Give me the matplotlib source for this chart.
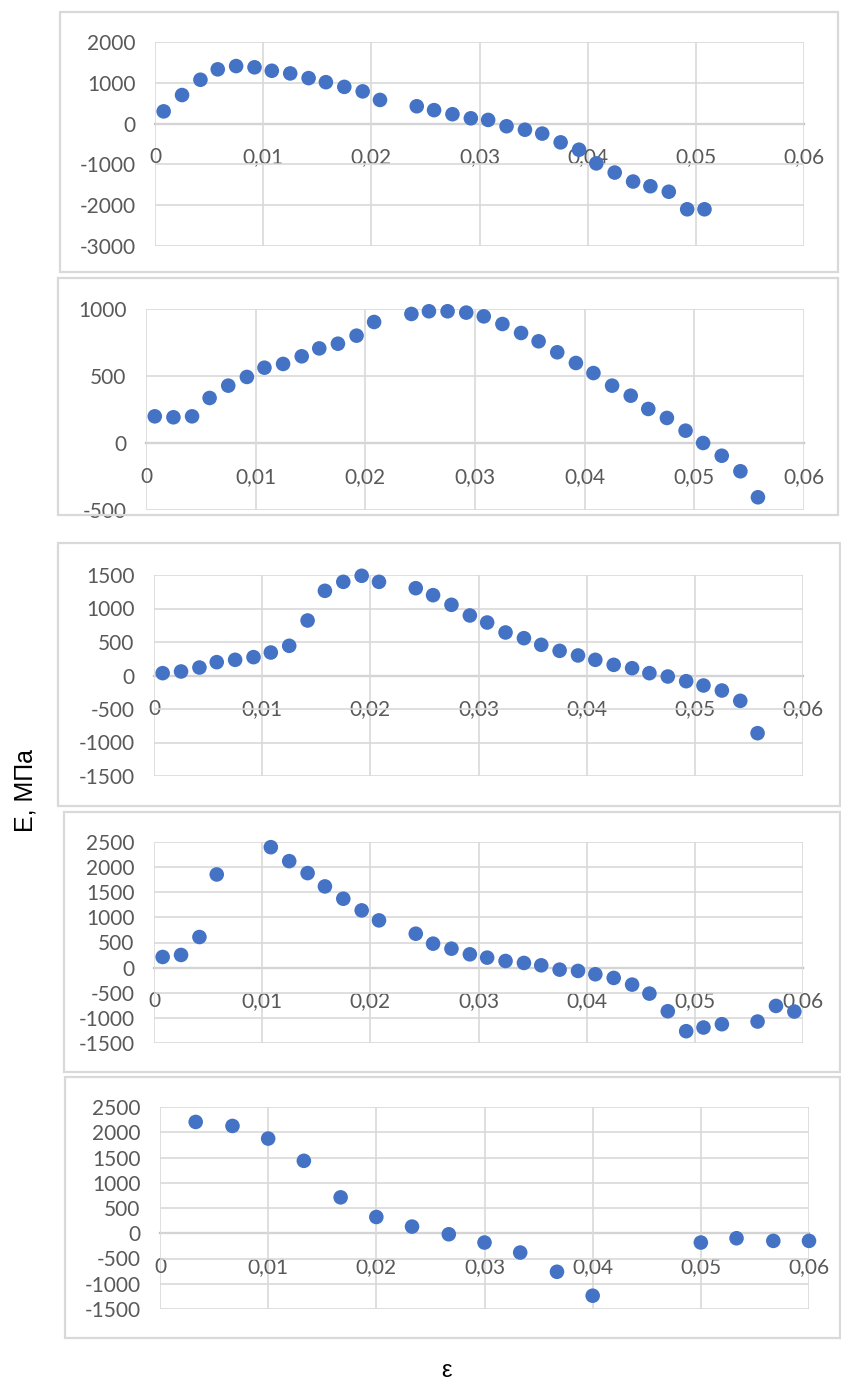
import matplotlib
matplotlib.use("Agg")
import matplotlib.pyplot as plt
from matplotlib.patches import Rectangle
from matplotlib.ticker import FixedLocator, FuncFormatter

# ---------------- data ----------------
eps1 = [0.0008, 0.0025, 0.0042, 0.0058, 0.0075, 0.0092, 0.0108, 0.0125, 0.0142, 0.0158,
        0.0175, 0.0192, 0.0208, 0.0242, 0.0258, 0.0275, 0.0292, 0.0308, 0.0325, 0.0342,
        0.0358, 0.0375, 0.0392, 0.0408, 0.0425, 0.0442, 0.0458, 0.0475, 0.0492, 0.0508]
E1 = [300, 700, 1075, 1330, 1410, 1380, 1295, 1230, 1115, 1015,
      900, 790, 580, 425, 330, 230, 130, 90, -65, -150,
      -245, -460, -640, -975, -1200, -1420, -1535, -1670, -2100, -2100]

eps2 = [0.0008, 0.0025, 0.0042, 0.0058, 0.0075, 0.0092, 0.0108, 0.0125, 0.0142, 0.0158,
        0.0175, 0.0192, 0.0208, 0.0242, 0.0258, 0.0275, 0.0292, 0.0308, 0.0325, 0.0342,
        0.0358, 0.0375, 0.0392, 0.0408, 0.0425, 0.0442, 0.0458, 0.0475, 0.0492, 0.0508,
        0.0525, 0.0542, 0.0558]
E2 = [199, 192, 199, 336, 428, 493, 562, 590, 647, 706,
      741, 801, 903, 963, 983, 983, 973, 945, 888, 821,
      759, 677, 597, 522, 428, 353, 254, 187, 92, 0,
      -95, -211, -405]

eps3 = [0.0008, 0.0025, 0.0042, 0.0058, 0.0075, 0.0092, 0.0108, 0.0125, 0.0142, 0.0158,
        0.0175, 0.0192, 0.0208, 0.0242, 0.0258, 0.0275, 0.0292, 0.0308, 0.0325, 0.0342,
        0.0358, 0.0375, 0.0392, 0.0408, 0.0425, 0.0442, 0.0458, 0.0475, 0.0492, 0.0508,
        0.0525, 0.0542, 0.0558]
E3 = [35, 60, 119, 199, 234, 274, 343, 443, 821, 1264,
      1398, 1488, 1398, 1303, 1199, 1055, 896, 791, 642, 557,
      458, 368, 299, 234, 159, 109, 35, -15, -85, -149,
      -224, -378, -861]

eps4 = [0.0008, 0.0025, 0.0042, 0.0058, 0.0108, 0.0125, 0.0142, 0.0158, 0.0175, 0.0192,
        0.0208, 0.0242, 0.0258, 0.0275, 0.0292, 0.0308, 0.0325, 0.0342, 0.0358, 0.0375,
        0.0392, 0.0408, 0.0425, 0.0442, 0.0458, 0.0475, 0.0492, 0.0508, 0.0525, 0.0558,
        0.0575, 0.0592]
E4 = [212, 252, 609, 1854, 2397, 2119, 1881, 1616, 1371, 1139,
      940, 675, 477, 377, 265, 199, 132, 93, 46, -40,
      -66, -132, -205, -338, -517, -868, -1265, -1192, -1126, -1073,
      -762, -874]

eps5 = [0.0033, 0.0067, 0.0100, 0.0133, 0.0167, 0.0200, 0.0233, 0.0267, 0.0300, 0.0333,
        0.0367, 0.0400, 0.0500, 0.0533, 0.0567, 0.0600]
E5 = [2204, 2125, 1875, 1434, 711, 322, 132, -20, -184, -382,
      -763, -1237, -184, -99, -151, -151]

x_ticks = [0, 0.01, 0.02, 0.03, 0.04, 0.05, 0.06]
x_tick_labels = ["0", "0,01", "0,02", "0,03", "0,04", "0,05", "0,06"]
y_ticks1 = [-3000, -2000, -1000, 0, 1000, 2000]
y_ticks2 = [-500, 0, 500, 1000]
y_ticks3 = [-1500, -1000, -500, 0, 500, 1000, 1500]
y_ticks4 = [-1500, -1000, -500, 0, 500, 1000, 1500, 2000, 2500]
y_ticks5 = [-1500, -1000, -500, 0, 500, 1000, 1500, 2000, 2500]

y_label = "E, МПа"
x_label = "ε"

# ---------------- layout ----------------
W, H = 841, 1380
fig = plt.figure(figsize=(W / 100, H / 100), dpi=100)

MARK = "#4472C4"
GRID = "#D9D9D9"
AXIS = "#BFBFBF"
TXT = "#595959"
FONT = ["Lato", "DejaVu Sans"]

# (plot-area left, right, top, bottom) in pixels; frame (left, right, top, bottom)
panels = [
    (eps1, E1, y_ticks1, (155, 804, 42, 246), (60, 838, 12, 272)),
    (eps2, E2, y_ticks2, (146, 804, 309, 510), (58, 838, 278, 515)),
    (eps3, E3, y_ticks3, (154, 803, 575, 776), (58, 840, 543, 806)),
    (eps4, E4, y_ticks4, (154, 803, 842, 1043), (64, 840, 812, 1072)),
    (eps5, E5, y_ticks5, (160, 809, 1107, 1309), (65, 840, 1077, 1338)),
]

for xs, ys, yt, (l, r, t, b), (fl, fr, ft, fb) in panels:
    fig.patches.append(Rectangle((fl / W, 1 - fb / H), (fr - fl) / W, (fb - ft) / H,
                                 transform=fig.transFigure, fill=False,
                                 edgecolor=GRID, linewidth=1.6, zorder=0))
    ax = fig.add_axes([l / W, 1 - b / H, (r - l) / W, (b - t) / H])
    ax.set_facecolor("none")
    ax.set_xlim(0, 0.06)
    ax.set_ylim(yt[0], yt[-1])
    ax.xaxis.set_major_locator(FixedLocator(x_ticks))
    ax.set_xticklabels(x_tick_labels)
    ax.yaxis.set_major_locator(FixedLocator(yt))
    ax.yaxis.set_major_formatter(FuncFormatter(lambda v, p: "%d" % v))
    ax.grid(True, color=GRID, linewidth=1.2, zorder=0)
    for s in ("top", "right", "left"):
        ax.spines[s].set_visible(False)
    ax.spines["bottom"].set_position(("data", 0))
    ax.spines["bottom"].set_color(AXIS)
    ax.spines["bottom"].set_linewidth(1.6)
    ax.spines["bottom"].set_zorder(1)
    ax.tick_params(axis="both", length=0, labelcolor=TXT, labelsize=15)
    ax.tick_params(axis="x", pad=17)
    ax.tick_params(axis="y", pad=14)
    for lab in ax.get_xticklabels() + ax.get_yticklabels():
        lab.set_family(FONT)
    ax.scatter(xs, ys, s=110, color=MARK, edgecolors="none", zorder=3, clip_on=False)

fig.text(26 / W, 1 - 790 / H, y_label, rotation=90, ha="center", va="center",
         fontsize=18, color="#000000", family=["Liberation Sans", "DejaVu Sans"])
fig.text(447 / W, 1 - 1371 / H, x_label, ha="center", va="center",
         fontsize=17, color="#000000", family=["Liberation Sans", "DejaVu Sans"])

fig.savefig("out.png", dpi=100, facecolor="white")
